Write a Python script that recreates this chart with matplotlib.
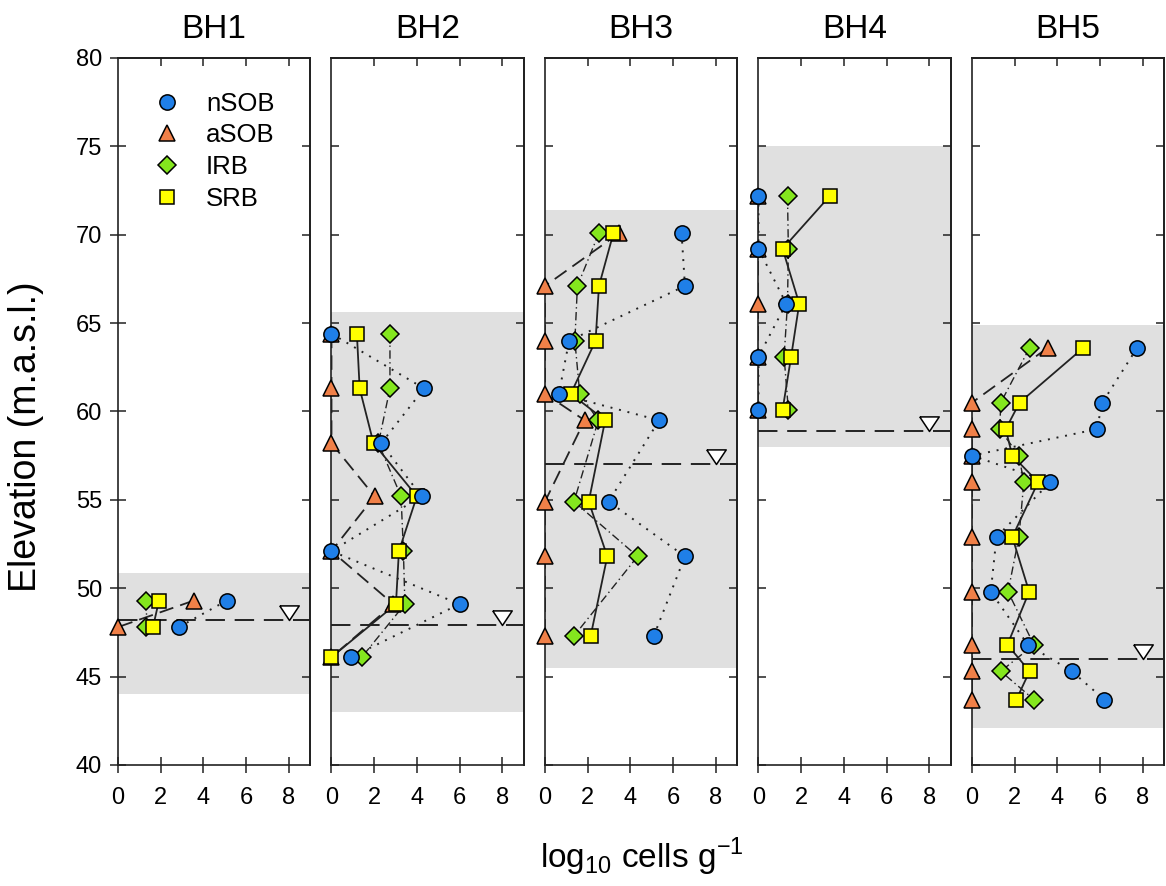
import matplotlib.pyplot as plt
from matplotlib.lines import Line2D
from matplotlib.path import Path

plt.rcParams['font.family'] = ['Liberation Sans', 'DejaVu Sans']
plt.rcParams['mathtext.fontset'] = 'custom'
plt.rcParams['mathtext.rm'] = 'Liberation Sans'

# ------------------------------------------------------------------
# Data (log10 cells per g)
# ------------------------------------------------------------------
boreholes = ["BH1", "BH2", "BH3", "BH4", "BH5"]
groups = ["nSOB", "aSOB", "IRB", "SRB"]

bh1_elev = [49.3, 47.8]
bh1_nsob = [5.10, 2.85]
bh1_asob = [3.55, 0.00]
bh1_irb = [1.33, 1.33]
bh1_srb = [1.92, 1.64]

bh2_elev = [64.4, 61.3, 58.2, 55.2, 52.1, 49.1, 46.1]
bh2_nsob = [0.00, 4.34, 2.33, 4.22, 0.00, 6.00, 0.92]
bh2_asob = [0.00, 0.00, 0.00, 2.02, 0.00, 2.90, 0.00]
bh2_irb = [2.74, 2.74, 2.20, 3.26, 3.37, 3.44, 1.42]
bh2_srb = [1.19, 1.32, 1.97, 4.00, 3.16, 3.02, 0.00]

bh3_elev = [70.1, 67.1, 64.0, 61.0, 59.5, 54.9, 51.8, 47.3]
bh3_nsob = [6.40, 6.56, 1.13, 0.65, 5.35, 2.98, 6.56, 5.10]
bh3_asob = [3.49, 0.00, 0.00, 0.00, 1.86, 0.00, 0.00, 0.00]
bh3_irb = [2.53, 1.52, 1.40, 1.63, 2.50, 1.36, 4.34, 1.36]
bh3_srb = [3.21, 2.53, 2.37, 1.21, 2.82, 2.05, 2.92, 2.14]

bh4_elev = [72.2, 69.2, 66.1, 63.1, 60.1]
bh4_nsob = [0.00, 0.00, 1.30, 0.00, 0.00]
bh4_asob = [0.00, 0.00, 0.00, 0.00, 0.00]
bh4_irb = [1.36, 1.40, 1.36, 1.20, 1.40]
bh4_srb = [3.35, 1.13, 1.91, 1.53, 1.13]

bh5_elev = [63.6, 60.5, 59.0, 57.5, 56.0, 52.9, 49.8, 46.8, 45.3, 43.7]
bh5_nsob = [7.74, 6.11, 5.85, 0.00, 3.67, 1.15, 0.88, 2.62, 4.68, 6.20]
bh5_asob = [3.55, 0.00, 0.00, 0.00, 0.00, 0.00, 0.00, 0.00, 0.00, 0.00]
bh5_irb = [2.70, 1.35, 1.30, 2.20, 2.43, 2.20, 1.69, 2.90, 1.35, 2.90]
bh5_srb = [5.22, 2.23, 1.58, 1.89, 3.10, 1.89, 2.68, 1.66, 2.70, 2.08]

# sampled interval (grey band) and water table, m.a.s.l.
zone_bottom = [44.0, 43.0, 45.5, 58.0, 42.1]
zone_top = [50.85, 65.6, 71.4, 75.0, 64.9]
water_table = [48.2, 47.9, 57.0, 58.9, 46.0]
wt_symbol_x = 8

elevs = [bh1_elev, bh2_elev, bh3_elev, bh4_elev, bh5_elev]
counts = {
    "nSOB": [bh1_nsob, bh2_nsob, bh3_nsob, bh4_nsob, bh5_nsob],
    "aSOB": [bh1_asob, bh2_asob, bh3_asob, bh4_asob, bh5_asob],
    "IRB": [bh1_irb, bh2_irb, bh3_irb, bh4_irb, bh5_irb],
    "SRB": [bh1_srb, bh2_srb, bh3_srb, bh4_srb, bh5_srb],
}

# ------------------------------------------------------------------
# Styles
# ------------------------------------------------------------------
style = {
    "nSOB": dict(marker="o", ms=11, mfc="#1f7fe8", dashes=(1, 3.5), lw=1.4),
    "aSOB": dict(marker="^", ms=11, mfc="#f08048", dashes=(8, 4), lw=1.3),
    "IRB": dict(marker="D", ms=9.5, mfc="#84e61e", dashes=(6, 2.5, 1, 2.5), lw=1.0),
    "SRB": dict(marker="s", ms=10, mfc="#ffff00", dashes=(), lw=1.3),
}
draw_order = ["aSOB", "IRB", "SRB", "nSOB"]

# inverted triangle with its tip on the water table
wt_marker = Path([(-1, 1.5), (1, 1.5), (0, 0), (-1, 1.5)])

# ------------------------------------------------------------------
# Plot
# ------------------------------------------------------------------
fig = plt.figure(figsize=(11.66, 8.86), dpi=100)

for i, name in enumerate(boreholes):
    ax = fig.add_axes([0.1012 + i * 0.1831, 0.1366, 0.1647, 0.798])

    ax.axhspan(zone_bottom[i], zone_top[i], color="#e0e0e0", lw=0, zorder=0)
    ax.axhline(water_table[i], color="#222222", lw=1.4, dashes=(10, 5), zorder=1)
    ax.plot(wt_symbol_x, water_table[i], marker=wt_marker, ms=21,
            mfc="white", mec="black", mew=1.1, ls="none", zorder=8)

    for g in draw_order:
        s = style[g]
        ax.plot(counts[g][i], elevs[i], color="#222222", lw=s["lw"],
                dashes=s["dashes"], zorder=2)
    for z, g in enumerate(draw_order):
        s = style[g]
        ax.plot(counts[g][i], elevs[i], ls="none", marker=s["marker"],
                ms=s["ms"], mfc=s["mfc"], mec="black", mew=1.1,
                zorder=3 + z, clip_on=False)

    ax.set_xlim(0, 9)
    ax.set_ylim(40, 80)
    ax.set_xticks([0, 2, 4, 6, 8])
    ax.set_yticks(range(40, 81, 5))
    ax.set_title(name, fontsize=24, pad=14)

    for sp in ax.spines.values():
        sp.set_linewidth(1.2)
        sp.set_color("#222222")

    ax.tick_params(axis="x", direction="inout", length=11, width=1.1,
                   labelsize=17, pad=10, color="#222222")
    if i == 0:
        ax.tick_params(axis="y", direction="inout", length=11, width=1.1,
                       labelsize=17, pad=6, color="#222222")
        ax.set_ylabel("Elevation (m.a.s.l.)", fontsize=27)
        ax.yaxis.set_label_coords(-0.385, 0.465)
    else:
        ax.tick_params(axis="y", direction="in", length=6, width=1.1,
                       labelleft=False, color="#222222")

    top = ax.secondary_xaxis("top")
    top.set_xticks([2, 4, 6, 8])
    top.tick_params(direction="in", length=6, width=1.1, labeltop=False,
                    color="#222222")
    top.spines["top"].set_linewidth(1.2)
    right = ax.secondary_yaxis("right")
    right.set_yticks(range(45, 80, 5))
    right.tick_params(direction="in", length=6, width=1.1, labelright=False,
                      color="#222222")
    right.spines["right"].set_linewidth(1.2)

    if i == 0:
        handles = [Line2D([], [], ls="none", marker=style[g]["marker"],
                          ms=style[g]["ms"], mfc=style[g]["mfc"],
                          mec="black", mew=1.1) for g in groups]
        ax.legend(handles, groups, loc="upper left", bbox_to_anchor=(0.07, 0.985),
                  frameon=False, fontsize=18.5, handlelength=1.0,
                  handletextpad=1.0, labelspacing=0.3)

fig.text(0.55, 0.033, r"log$_\mathregular{10}$ cells g$^\mathregular{-1}$",
         ha="center", va="center", fontsize=24)

plt.savefig("out.png", dpi=100)
